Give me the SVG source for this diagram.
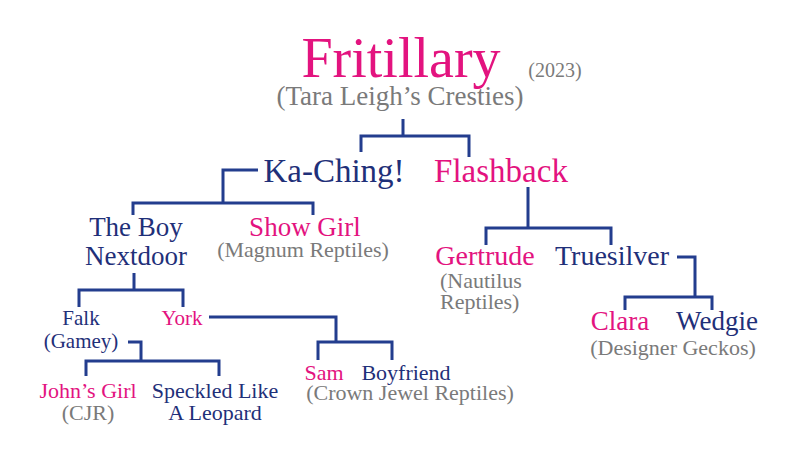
<svg xmlns="http://www.w3.org/2000/svg" width="800" height="456" viewBox="0 0 800 456">
<style>
text{font-family:"Liberation Serif","DejaVu Serif",serif;text-anchor:middle}
.m{fill:#e3137f}
.n{fill:#1f3079}
.g{fill:#7a7a7a}
.l{text-anchor:start}
.c path{fill:none;stroke:#233d8e;stroke-width:3;stroke-linejoin:miter;stroke-linecap:butt}
</style>
<rect width="800" height="456" fill="#ffffff"/>
<g class="c" id="connectors">
<path d="M403 119V136M361 152V136H469V157"/>
<path d="M258 170H223V203M133 215V203H313V215"/>
<path d="M528 187V228M486 245V228H611V245"/>
<path d="M134 273V290M79 307V290H183V307"/>
<path d="M209 317H336V342M318 360V342H392V360"/>
<path d="M128 342H141V361M86 376V361H219V376"/>
<path d="M677 257H695V297M625 310V297H712V310"/>
</g>
<g id="fritillary"><text x="401" y="77" font-size="56" class="m">Fritillary</text><text x="555" y="77" font-size="20" class="g">(2023)</text><text x="400" y="105" font-size="27" class="g">(Tara Leigh’s Cresties)</text></g>
<g id="kaching"><text x="334" y="182" font-size="33" class="n">Ka-Ching!</text></g>
<g id="flashback"><text x="501" y="182" font-size="33" class="m">Flashback</text></g>
<g id="theboy"><text x="136" y="236" font-size="27" class="n">The Boy</text><text x="136" y="265" font-size="27" class="n">Nextdoor</text></g>
<g id="showgirl"><text x="305" y="236" font-size="27" class="m">Show Girl</text><text x="303" y="257" font-size="22" class="g">(Magnum Reptiles)</text></g>
<g id="gertrude"><text x="485" y="265" font-size="28" class="m">Gertrude</text><text x="440" y="288" font-size="22" class="g l">(Nautilus</text><text x="440" y="309" font-size="22" class="g l">Reptiles)</text></g>
<g id="truesilver"><text x="612" y="265" font-size="28" class="n">Truesilver</text></g>
<g id="falk"><text x="81" y="325" font-size="21" class="n">Falk</text><text x="81" y="348" font-size="21" class="n">(Gamey)</text></g>
<g id="york"><text x="182" y="325" font-size="21" class="m">York</text></g>
<g id="clara"><text x="620" y="330" font-size="27" class="m">Clara</text></g>
<g id="wedgie"><text x="717" y="330" font-size="27" class="n">Wedgie</text><text x="673" y="355" font-size="22" class="g">(Designer Geckos)</text></g>
<g id="sam"><text x="324" y="380" font-size="22" class="m">Sam</text></g>
<g id="boyfriend"><text x="406" y="380" font-size="22" class="n">Boyfriend</text><text x="410" y="400" font-size="22" class="g">(Crown Jewel Reptiles)</text></g>
<g id="johnsgirl"><text x="88" y="398" font-size="22" class="m">John’s Girl</text><text x="88" y="420" font-size="22" class="g">(CJR)</text></g>
<g id="speckled"><text x="215" y="398" font-size="22" class="n">Speckled Like</text><text x="215" y="420" font-size="22" class="n">A Leopard</text></g>
</svg>
